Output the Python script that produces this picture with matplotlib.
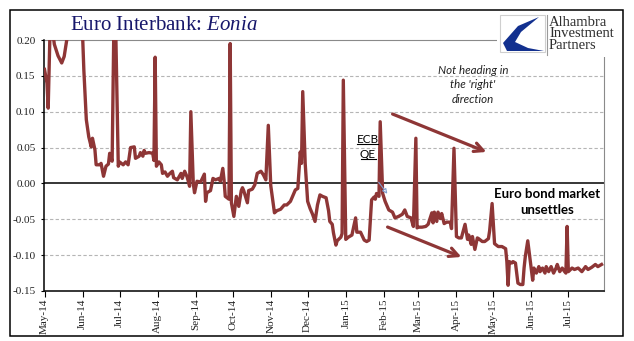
import matplotlib
matplotlib.use("Agg")
import matplotlib.pyplot as plt
import matplotlib.dates as mdates
from matplotlib.patches import Rectangle, Polygon
from matplotlib.lines import Line2D
from matplotlib.ticker import FormatStrFormatter
from matplotlib.transforms import IdentityTransform
import pandas as pd

# Eonia daily fixing (%); values above 0.20 are off the top
dates = [
    '2014-05-01', '2014-05-03', '2014-05-04', '2014-05-06', '2014-05-07', '2014-05-09',
    '2014-05-12', '2014-05-15', '2014-05-17', '2014-05-20', '2014-05-23', '2014-05-26',
    '2014-05-29', '2014-05-30', '2014-06-02', '2014-06-04', '2014-06-06', '2014-06-08',
    '2014-06-09', '2014-06-11', '2014-06-12', '2014-06-15', '2014-06-16', '2014-06-18',
    '2014-06-20', '2014-06-22', '2014-06-23', '2014-06-25', '2014-06-27', '2014-06-30',
    '2014-07-01', '2014-07-04', '2014-07-06', '2014-07-08', '2014-07-10', '2014-07-13',
    '2014-07-14', '2014-07-17', '2014-07-18', '2014-07-20', '2014-07-21', '2014-07-22',
    '2014-07-25', '2014-07-28', '2014-07-29', '2014-07-30', '2014-07-31', '2014-08-02',
    '2014-08-04', '2014-08-05', '2014-08-07', '2014-08-09', '2014-08-11', '2014-08-13',
    '2014-08-14', '2014-08-17', '2014-08-20', '2014-08-21', '2014-08-23', '2014-08-25',
    '2014-08-27', '2014-08-28', '2014-08-30', '2014-08-31', '2014-09-02', '2014-09-05',
    '2014-09-08', '2014-09-09', '2014-09-10', '2014-09-13', '2014-09-15', '2014-09-17',
    '2014-09-20', '2014-09-21', '2014-09-23', '2014-09-24', '2014-09-25', '2014-09-28',
    '2014-09-29', '2014-09-30', '2014-10-02', '2014-10-04', '2014-10-06', '2014-10-08',
    '2014-10-09', '2014-10-10', '2014-10-13', '2014-10-14', '2014-10-17', '2014-10-19',
    '2014-10-21', '2014-10-24', '2014-10-26', '2014-10-28', '2014-10-30', '2014-11-01',
    '2014-11-04', '2014-11-06', '2014-11-09', '2014-11-12', '2014-11-14', '2014-11-17',
    '2014-11-19', '2014-11-21', '2014-11-23', '2014-11-25', '2014-11-26', '2014-11-27',
    '2014-11-29', '2014-12-01', '2014-12-03', '2014-12-05', '2014-12-07', '2014-12-09',
    '2014-12-11', '2014-12-13', '2014-12-16', '2014-12-18', '2014-12-19', '2014-12-21',
    '2014-12-22', '2014-12-24', '2014-12-25', '2014-12-28', '2014-12-29', '2014-12-30',
    '2015-01-01', '2015-01-03', '2015-01-06', '2015-01-09', '2015-01-10', '2015-01-13',
    '2015-01-16', '2015-01-18', '2015-01-20', '2015-01-22', '2015-01-24', '2015-01-25',
    '2015-01-26', '2015-01-28', '2015-01-29', '2015-01-31', '2015-02-02', '2015-02-05',
    '2015-02-08', '2015-02-10', '2015-02-13', '2015-02-16', '2015-02-18', '2015-02-20',
    '2015-02-23', '2015-02-25', '2015-02-27', '2015-02-28', '2015-03-01', '2015-03-04',
    '2015-03-07', '2015-03-09', '2015-03-12', '2015-03-13', '2015-03-14', '2015-03-16',
    '2015-03-17', '2015-03-19', '2015-03-20', '2015-03-22', '2015-03-24', '2015-03-27',
    '2015-03-28', '2015-03-30', '2015-04-01', '2015-04-03', '2015-04-05', '2015-04-08',
    '2015-04-10', '2015-04-11', '2015-04-13', '2015-04-14', '2015-04-16', '2015-04-18',
    '2015-04-19', '2015-04-22', '2015-04-24', '2015-04-27', '2015-04-28', '2015-04-30',
    '2015-05-01', '2015-05-02', '2015-05-05', '2015-05-08', '2015-05-11', '2015-05-12',
    '2015-05-13', '2015-05-14', '2015-05-16', '2015-05-17', '2015-05-19', '2015-05-21',
    '2015-05-23', '2015-05-25', '2015-05-26', '2015-05-27', '2015-05-29', '2015-05-31',
    '2015-06-02', '2015-06-03', '2015-06-05', '2015-06-07', '2015-06-08', '2015-06-10',
    '2015-06-12', '2015-06-13', '2015-06-15', '2015-06-17', '2015-06-19', '2015-06-21',
    '2015-06-22', '2015-06-24', '2015-06-26', '2015-06-28', '2015-06-29', '2015-06-30',
    '2015-07-01', '2015-07-04', '2015-07-06', '2015-07-09', '2015-07-12', '2015-07-15',
    '2015-07-17', '2015-07-20', '2015-07-23', '2015-07-25', '2015-07-28',
]
eonia = [
    0.159, 0.140, 0.105, 0.250, 0.220, 0.194,
    0.178, 0.168, 0.177, 0.210, 0.260, 0.250,
    0.270, 0.300, 0.158, 0.089, 0.065, 0.051,
    0.063, 0.047, 0.026, 0.026, 0.028, 0.010,
    0.024, 0.027, 0.042, 0.031, 0.300, 0.024,
    0.030, 0.026, 0.030, 0.026, 0.050, 0.051,
    0.035, 0.038, 0.043, 0.038, 0.046, 0.042,
    0.043, 0.042, 0.032, 0.176, 0.024, 0.030,
    0.026, 0.014, 0.016, 0.010, 0.014, 0.017,
    0.008, 0.005, 0.014, 0.007, 0.017, 0.009,
    -0.004, 0.100, 0.000, -0.013, 0.003, 0.002,
    0.013, -0.025, -0.013, -0.010, 0.007, 0.005,
    0.007, 0.003, 0.021, 0.005, -0.018, -0.022,
    0.195, -0.027, -0.046, -0.018, -0.032, -0.010,
    -0.006, -0.010, -0.027, -0.010, -0.008, -0.002,
    0.014, 0.017, 0.012, 0.005, 0.081, -0.003,
    -0.041, -0.038, -0.036, -0.030, -0.030, -0.025,
    -0.017, -0.009, -0.007, 0.044, 0.028, 0.128,
    0.028, -0.025, -0.035, -0.043, -0.053, -0.030,
    -0.016, -0.018, -0.020, -0.038, -0.053, -0.057,
    -0.069, -0.086, -0.080, -0.075, -0.070, 0.144,
    -0.078, -0.075, -0.072, -0.048, -0.068, -0.068,
    -0.079, -0.081, -0.079, -0.023, -0.019, -0.022,
    -0.014, -0.018, 0.086, -0.014, -0.025, -0.037,
    -0.040, -0.048, -0.046, -0.043, -0.037, -0.046,
    -0.048, -0.060, 0.063, -0.062, -0.061, -0.061,
    -0.060, -0.057, -0.041, -0.055, -0.040, -0.053,
    -0.040, -0.049, -0.042, -0.056, -0.054, -0.054,
    -0.063, 0.049, -0.074, -0.076, -0.076, -0.057,
    -0.078, -0.072, -0.085, -0.074, -0.092, -0.076,
    -0.077, -0.081, -0.081, -0.077, -0.066, -0.028,
    -0.056, -0.084, -0.088, -0.088, -0.091, -0.109,
    -0.142, -0.109, -0.111, -0.109, -0.111, -0.139,
    -0.141, -0.141, -0.118, -0.102, -0.080, -0.107,
    -0.135, -0.118, -0.125, -0.116, -0.123, -0.118,
    -0.125, -0.116, -0.123, -0.116, -0.125, -0.118,
    -0.113, -0.123, -0.118, -0.123, -0.125, -0.060,
    -0.123, -0.118, -0.120, -0.118, -0.123, -0.116,
    -0.120, -0.117, -0.113, -0.116, -0.113,
]
y_ticks = [-0.15, -0.10, -0.05, 0.00, 0.05, 0.10, 0.15, 0.20]
dashed_levels = [-0.10, -0.05, 0.05, 0.10, 0.15]

LINE_COLOR = '#8e3636'
TITLE_COLOR = '#17176b'
SERIF = 'Liberation Serif'
SANS = 'Lato'

plt.rcParams['axes.unicode_minus'] = False
plt.rcParams['mathtext.fontset'] = 'custom'
plt.rcParams['mathtext.rm'] = SERIF
plt.rcParams['mathtext.it'] = SERIF + ':italic'

W, H = 634, 341


def fx(px):
    return px / W


def fy(py):
    return 1 - py / H


fig = plt.figure(figsize=(W / 100, H / 100), dpi=100)

ax_l, ax_r, ax_t, ax_b = 44.5, 604, 40, 291
ax = fig.add_axes([fx(ax_l), fy(ax_b), fx(ax_r) - fx(ax_l), fy(ax_t) - fy(ax_b)])


def axf(px, py):
    # pixel position -> axes fraction
    return (px - ax_l) / (ax_r - ax_l), (ax_b - py) / (ax_b - ax_t)


x = pd.to_datetime(dates)
ax.plot(x, eonia, color=LINE_COLOR, lw=2.4, solid_joinstyle='round', zorder=3)

ax.set_ylim(-0.15, 0.20)
ax.set_xlim(pd.Timestamp('2014-05-01'), pd.Timestamp('2015-07-30'))
ax.set_yticks(y_ticks)
ax.yaxis.set_major_formatter(FormatStrFormatter('%.2f'))
ax.xaxis.set_major_locator(mdates.MonthLocator())
ax.xaxis.set_major_formatter(mdates.DateFormatter('%b-%y'))

for lev in dashed_levels:
    ax.axhline(lev, color='#b5b5b5', lw=0.8, ls=(0, (3, 2)), zorder=1)
ax.axhline(0, color='black', lw=1.1, zorder=2)

ax.spines['left'].set_color('black')
ax.spines['bottom'].set_color('black')
ax.spines['left'].set_linewidth(1.1)
ax.spines['bottom'].set_linewidth(1.1)
ax.spines['top'].set_color('#8a8a8a')
ax.spines['right'].set_color('#8a8a8a')

ax.tick_params(axis='y', direction='out', length=2.5, width=0.8, pad=4,
               labelsize=8, labelcolor='#222222')
ax.tick_params(axis='x', direction='out', length=4.5, width=0.8, pad=1,
               labelsize=8, labelcolor='#222222', labelrotation=90)
for lab in ax.get_xticklabels() + ax.get_yticklabels():
    lab.set_fontfamily(SERIF)

# title
fig.text(fx(70), fy(26), 'Euro Interbank: $\\mathit{Eonia}$', fontsize=15,
         family=SERIF, color=TITLE_COLOR, ha='left', va='center')

# annotations
ecb = ax.text(*axf(367.5, 139.5), 'ECB', transform=ax.transAxes, fontsize=8.5,
              family=SANS, ha='center', va='center', color='black')
qe = ax.text(*axf(368, 154.5), 'QE', transform=ax.transAxes, fontsize=8.5,
             family=SANS, ha='center', va='center', color='black')
ax.text(*axf(473, 85), "Not heading in\nthe 'right'\ndirection", transform=ax.transAxes,
        fontsize=8.3, family=SANS, style='italic', ha='center', va='center',
        linespacing=1.4, color='#222222')
ax.text(*axf(547, 202), 'Euro bond market\nunsettles', transform=ax.transAxes,
        fontsize=9.5, family=SANS, weight='bold', ha='center', va='center',
        linespacing=1.35, color='black')

arrow_kw = dict(arrowstyle='->', color=LINE_COLOR, lw=2.3, mutation_scale=16)
ax.annotate('', xy=axf(489, 153), xytext=axf(390, 113), xycoords='axes fraction',
            textcoords='axes fraction', arrowprops=arrow_kw)
ax.annotate('', xy=axf(464, 258), xytext=axf(385, 226), xycoords='axes fraction',
            textcoords='axes fraction', arrowprops=arrow_kw)
ax.annotate('', xy=axf(389, 196), xytext=axf(377, 180), xycoords='axes fraction',
            textcoords='axes fraction',
            arrowprops=dict(arrowstyle='-|>', color='#7f9fd0', lw=0.8,
                            mutation_scale=7, fc='white'))

# logo box in the top-right corner, drawn in pixel units
lg_l, lg_r, lg_t, lg_b = 497, 621, 11, 57
lax = fig.add_axes([fx(lg_l), fy(lg_b), fx(lg_r) - fx(lg_l), fy(lg_t) - fy(lg_b)],
                   zorder=5)
lax.set_xlim(lg_l, lg_r)
lax.set_ylim(lg_b, lg_t)
lax.set_facecolor('white')
for s in lax.spines.values():
    s.set_visible(False)
lax.set_xticks([])
lax.set_yticks([])
lax.add_patch(Rectangle((500, 15), 45, 37, facecolor='white', edgecolor='#cfcfcf', lw=0.8))
lax.add_patch(Polygon([(539, 17), (518, 26), (503, 43), (507, 51), (544, 51),
                       (528, 48), (515, 42), (521, 32)],
                      closed=True, facecolor='#12308f', edgecolor='none'))
lax.plot([546.5, 546.5], [15, 55], color='#9a9a9a', lw=0.8)
lax.text(549, 15.5, 'Alhambra\nInvestment\nPartners', fontsize=10.5, family=SERIF,
         color='#2e2e2e', ha='left', va='top', linespacing=0.88)

# outer frame
fig.add_artist(Rectangle((fx(9.5), fy(335.5)), fx(622.5) - fx(9.5), fy(10) - fy(335.5),
                         transform=fig.transFigure, fill=False, edgecolor='black',
                         lw=1.1, zorder=10))

# underline ECB / QE once the text extents are known
fig.canvas.draw()
renderer = fig.canvas.get_renderer()
for t in (ecb, qe):
    bb = t.get_window_extent(renderer)
    fig.add_artist(Line2D([bb.x0 + 0.5, bb.x1 - 0.5], [bb.y0 + 1.5, bb.y0 + 1.5],
                          transform=IdentityTransform(), color='black', lw=0.8))

fig.savefig('out.png', dpi=100)
